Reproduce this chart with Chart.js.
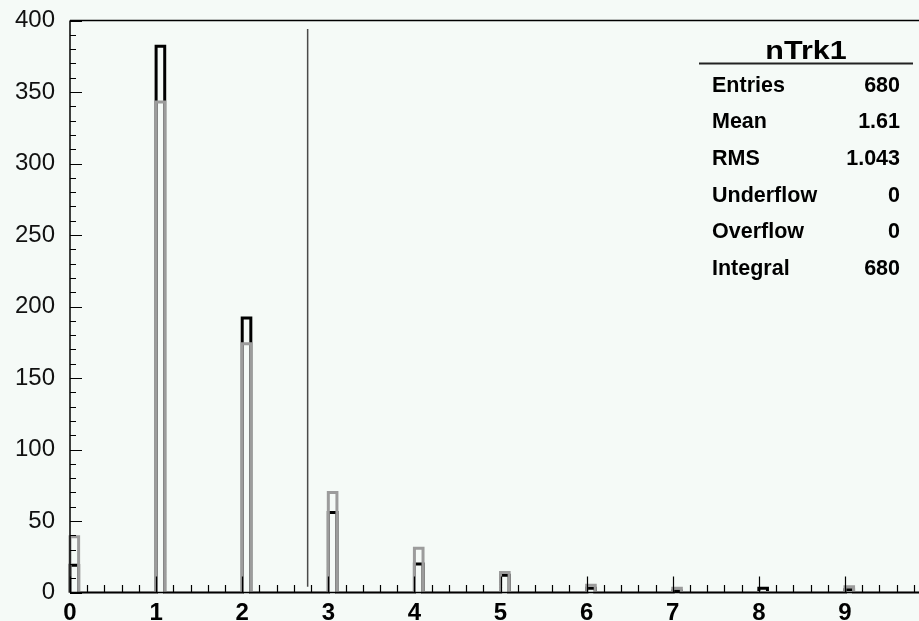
<!DOCTYPE html>
<html>
<head>
<meta charset="utf-8">
<script src="https://cdn.jsdelivr.net/npm/chart.js@4/dist/chart.umd.min.js"></script>
<style>
  html, body { margin: 0; padding: 0; background: #f5faf7; }
  #wrap { width: 919px; height: 621px; }
</style>
</head>
<body>
<div id="wrap"><canvas id="c" width="919" height="621"></canvas></div>
<script>
// nTrk1: two samples overlaid, one narrow bin at each track count
const nTrk = [0, 1, 2, 3, 4, 5, 6, 7, 8, 9];
const blackCounts = [19, 382, 192, 56, 20, 12, 3, 1, 3, 2];
const grayCounts = [39, 343, 174, 70, 31, 14, 5, 3, 0, 4];
const binWidth = 0.1;
const xRange = [0, 9.86];
const yTicks = [0, 50, 100, 150, 200, 250, 300, 350, 400];

// cut line
const cutX = 2.76;
const cutY = [4, 394];

// stats box
const histTitle = "nTrk1";
const statLabels = ["Entries", "Mean", "RMS", "Underflow", "Overflow", "Integral"];
const statValues = ["680", "1.61", "1.043", "0", "0", "680"];

// outline of a ROOT style histogram, zero between the filled bins
function histPoints(counts) {
    const pts = [{ x: xRange[0], y: 0 }];
    nTrk.forEach((n, i) => {
        pts.push({ x: n, y: 0 }, { x: n, y: counts[i] },
                 { x: n + binWidth, y: counts[i] }, { x: n + binWidth, y: 0 });
    });
    pts.push({ x: xRange[1], y: 0 });
    return pts;
}

const lineStyle = {
    pointRadius: 0,
    fill: false,
    tension: 0,
    borderJoinStyle: 'miter',
    borderCapStyle: 'butt',
    clip: false
};

// frame, inward ticks and the stats box
const rootPad = {
    id: 'rootPad',
    beforeDraw(chart) {
        const ctx = chart.ctx;
        ctx.save();
        ctx.fillStyle = '#f5faf7';
        ctx.fillRect(0, 0, chart.width, chart.height);
        ctx.restore();
    },
    afterDatasetsDraw(chart) {
        const { ctx, chartArea: a, scales: { x, y } } = chart;
        ctx.save();
        ctx.strokeStyle = '#000';
        ctx.lineWidth = 1.5;
        ctx.beginPath();
        ctx.moveTo(a.left, a.top); ctx.lineTo(a.right, a.top);
        ctx.moveTo(a.left, a.top); ctx.lineTo(a.left, a.bottom);
        ctx.moveTo(a.left, a.bottom); ctx.lineTo(a.right, a.bottom);
        ctx.stroke();

        ctx.lineWidth = 1.2;
        ctx.beginPath();
        for (let v = 0; v <= y.max; v += 10) {
            const py = Math.round(y.getPixelForValue(v)) + 0.5;
            const len = v % 50 === 0 ? 12 : 6;
            ctx.moveTo(a.left, py); ctx.lineTo(a.left + len, py);
        }
        for (let i = 0; i * 0.2 <= x.max; i++) {
            const px = Math.round(x.getPixelForValue(i * 0.2)) + 0.5;
            const len = i % 5 === 0 ? 16 : 7.5;
            ctx.moveTo(px, a.bottom); ctx.lineTo(px, a.bottom - len);
        }
        ctx.stroke();
        ctx.restore();
    },
    afterDraw(chart) {
        const ctx = chart.ctx;
        ctx.save();
        ctx.fillStyle = '#000';
        ctx.font = 'bold 25px "Liberation Sans", Arial, sans-serif';
        ctx.textAlign = 'center';
        ctx.textBaseline = 'alphabetic';
        ctx.translate(806, 59);
        ctx.scale(1.22, 1);
        ctx.fillText(histTitle, 0, 0);
        ctx.restore();

        ctx.save();
        ctx.strokeStyle = '#222';
        ctx.lineWidth = 2;
        ctx.beginPath();
        ctx.moveTo(699, 63.5); ctx.lineTo(913, 63.5);
        ctx.stroke();

        ctx.fillStyle = '#000';
        ctx.font = 'bold 21.5px "Liberation Sans", Arial, sans-serif';
        ctx.textBaseline = 'alphabetic';
        statLabels.forEach((lab, i) => {
            const by = 91.7 + i * 36.6;
            ctx.textAlign = 'left';
            ctx.fillText(lab, 712, by);
            ctx.textAlign = 'right';
            ctx.fillText(statValues[i], 900, by);
        });
        ctx.restore();
    }
};

new Chart(document.getElementById('c'), {
    type: 'line',
    data: {
        datasets: [
            Object.assign({ label: 'sample 2', data: histPoints(grayCounts),
                borderColor: '#9c9c9c', borderWidth: 3, order: 0 }, lineStyle),
            Object.assign({ label: 'sample 1', data: histPoints(blackCounts),
                borderColor: '#000000', borderWidth: 3, order: 1 }, lineStyle),
            Object.assign({ label: 'cut', data: [{ x: cutX, y: cutY[0] }, { x: cutX, y: cutY[1] }],
                borderColor: '#4a4a4a', borderWidth: 1.5, order: 2 }, lineStyle)
        ]
    },
    options: {
        responsive: false,
        animation: false,
        devicePixelRatio: 1,
        layout: { padding: { top: 20.5, right: 0, bottom: 0, left: 0 } },
        scales: {
            x: {
                type: 'linear',
                min: xRange[0],
                max: xRange[1],
                afterBuildTicks: s => { s.ticks = nTrk.map(v => ({ value: v })); },
                afterFit: s => { s.height = 28.5; s.paddingLeft = 0; s.paddingRight = 0; },
                grid: { display: false, drawTicks: false },
                border: { display: false },
                ticks: {
                    color: '#000',
                    padding: 6,
                    maxRotation: 0,
                    autoSkip: false,
                    font: { family: '"Liberation Sans", Arial, sans-serif', size: 24, weight: 'bold' }
                }
            },
            y: {
                min: yTicks[0],
                max: yTicks[yTicks.length - 1],
                afterBuildTicks: s => { s.ticks = yTicks.map(v => ({ value: v })); },
                afterFit: s => { s.width = 70; s.paddingTop = 0; s.paddingBottom = 0; },
                grid: { display: false, drawTicks: false },
                border: { display: false },
                ticks: {
                    color: '#111',
                    padding: 15,
                    font: { family: '"Liberation Sans", Arial, sans-serif', size: 24 }
                }
            }
        },
        plugins: {
            legend: { display: false },
            tooltip: { enabled: false }
        }
    },
    plugins: [rootPad]
});
</script>
</body>
</html>
